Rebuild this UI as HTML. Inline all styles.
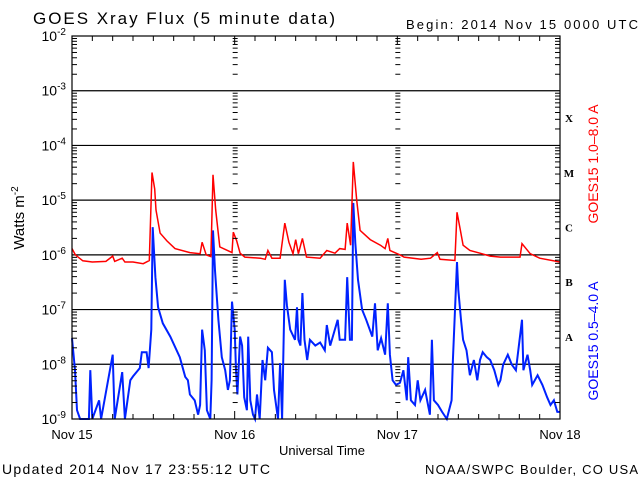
<!DOCTYPE html>
<html><head><meta charset="utf-8"><style>
html,body{margin:0;padding:0;background:#fff;}
svg{display:block;font-family:"Liberation Sans",sans-serif;}
</style></head><body>
<svg id="chart" width="640" height="480" xmlns="http://www.w3.org/2000/svg">
<rect x="0" y="0" width="640" height="480" fill="#fff"/>
<text x="33" y="24" font-size="17" textLength="302" lengthAdjust="spacing">GOES Xray Flux (5 minute data)</text>
<text x="406" y="29" font-size="13" textLength="232" lengthAdjust="spacing">Begin:  2014 Nov 15 0000 UTC</text>
<g id="grid"></g>
<g id="series"></g>
<g id="axes"></g>
<text transform="translate(24,218) rotate(-90)" font-size="15" text-anchor="middle">Watts m<tspan font-size="10" dy="-6">-2</tspan></text>
<text x="322" y="455" font-size="13" text-anchor="middle">Universal Time</text>
<text transform="translate(598,164) rotate(-90)" font-size="14" fill="#ff0000" text-anchor="middle">GOES15 1.0–8.0 A</text>
<text transform="translate(598,341) rotate(-90)" font-size="14" fill="#0000ff" text-anchor="middle">GOES15 0.5–4.0 A</text>
<text x="2" y="474" font-size="14" textLength="268" lengthAdjust="spacing">Updated 2014 Nov 17 23:55:12 UTC</text>
<text x="425" y="474" font-size="13" textLength="213" lengthAdjust="spacing">NOAA/SWPC Boulder, CO USA</text>
</svg>
<script>
const dayLabels = ["Nov 15","Nov 16","Nov 17","Nov 18"];
const decadeExps = [-2,-3,-4,-5,-6,-7,-8,-9];
const flareClasses = ["X","M","C","B","A"];
const redHours = [0,0.5,1.6,3,5,6,6.3,7.4,7.8,9,10.5,11.4,11.8,12.2,12.4,13,14,15.2,17.4,18.9,19.2,19.8,20.5,20.8,21.2,21.8,23.6,23.8,24.3,24.8,25.5,27.8,28.5,28.9,29.5,30.7,31.4,32,32.6,33,33.4,34,34.6,36.6,37.6,38.8,39.5,40.3,40.6,41.1,41.5,42,42.5,44,45.5,46.2,46.6,46.9,48.4,49,51.5,52.9,53.9,54.3,56.5,56.8,57.3,57.7,58.7,60.2,61.7,63.2,66.1,66.4,67.6,69,72];
const redFlux = [1.3e-6,1.0e-6,7.8e-7,7.4e-7,7.6e-7,9.5e-7,7.6e-7,8.7e-7,7.4e-7,7.4e-7,6.9e-7,7.9e-7,3.2e-5,1.6e-5,6.6e-6,2.5e-6,1.8e-6,1.3e-6,1.1e-6,1.05e-6,1.7e-6,1.0e-6,9.3e-7,2.9e-5,6.6e-6,1.4e-6,1.1e-6,2.6e-6,1.8e-6,1.07e-6,9.1e-7,8.7e-7,8.3e-7,1.2e-6,8.7e-7,8.7e-7,3.8e-6,1.7e-6,1.05e-6,1.9e-6,1.05e-6,2.0e-6,9.1e-7,8.7e-7,1.2e-6,1.07e-6,1.3e-6,1.26e-6,3.8e-6,1.5e-6,5.0e-5,1.0e-5,2.8e-6,1.9e-6,1.5e-6,1.3e-6,2.0e-6,1.2e-6,1.0e-6,9.1e-7,8.3e-7,8.7e-7,1.1e-6,8.3e-7,7.9e-7,6.0e-6,2.8e-6,1.5e-6,1.2e-6,1.07e-6,9.5e-7,9.1e-7,9.1e-7,1.6e-6,1.05e-6,8.7e-7,7.4e-7];
const blueHours = [0,0.45,0.74,1.2,2.5,2.7,3.0,4.0,4.3,6.0,6.3,7.4,7.8,8.6,9.0,10.0,10.3,11.0,11.3,11.7,11.9,12.3,12.7,13.4,14.5,15.9,16.7,17.1,17.4,18.1,18.6,18.9,19.2,19.6,19.9,20.4,20.6,20.8,21.1,21.6,22.1,22.6,23.0,23.3,23.6,24.0,24.2,24.4,24.8,25.1,25.4,25.8,26.0,26.3,26.7,27.0,27.3,27.7,28.1,28.5,28.9,29.5,29.8,30.4,30.7,31.0,31.4,31.7,32.2,32.9,33.2,33.4,33.7,34.0,34.3,34.7,35.1,35.9,36.6,37.3,37.6,38.1,39.2,39.5,40.3,40.6,41.0,41.3,41.5,41.8,42.2,42.8,43.4,44.3,44.7,45.1,45.6,46.2,46.6,46.9,47.3,47.8,48.4,48.9,49.4,49.6,50.0,50.6,51.0,51.4,52.1,52.8,53.1,53.4,54.0,54.6,55.3,56.0,56.2,56.8,57.0,57.4,57.7,58.2,58.7,59.3,59.8,60.2,60.6,61.2,61.7,62.3,62.9,63.2,63.6,64.3,64.9,65.5,66.4,66.6,67.2,67.6,67.9,68.7,69.4,70.1,70.6,71.1,71.6,72];
const blueFlux = [3.0e-8,7.8e-9,1.45e-9,1e-9,1e-9,7.8e-9,1e-9,2.2e-9,1e-9,1.5e-8,1e-9,7.2e-9,1e-9,5.1e-9,6.0e-9,8.5e-9,1.66e-8,1.66e-8,8.5e-9,4.3e-8,3.2e-6,3.9e-7,1.1e-7,5.6e-8,3.2e-8,1.35e-8,5.9e-9,5.1e-9,2.8e-9,2.2e-9,1.2e-9,1.8e-9,4.3e-8,1.8e-8,1.45e-9,1e-9,5.1e-9,2.8e-6,5.2e-7,6.5e-8,1.35e-8,7.8e-9,3.4e-9,5.1e-9,1.4e-7,4.3e-8,7.8e-9,2.8e-9,3.2e-8,2.2e-8,2.5e-9,1.45e-9,3.2e-8,2.2e-9,1.2e-9,1e-9,2.8e-9,1e-9,1.2e-8,5.1e-9,2.0e-8,1.66e-8,3.4e-9,1e-9,1.05e-8,1e-9,3.5e-7,1.2e-7,4.3e-8,2.8e-8,1.1e-7,2.8e-8,2.2e-8,2.0e-7,2.8e-8,1.2e-8,2.8e-8,2.2e-8,2.5e-8,1.8e-8,5.2e-8,2.2e-8,6.5e-8,2.8e-8,2.8e-8,3.9e-7,2.8e-8,2.8e-8,8.9e-6,1.66e-6,3.5e-7,1.0e-7,6.5e-8,3.2e-8,1.3e-7,1.8e-8,3.0e-8,1.5e-8,1.3e-7,1.5e-8,5.1e-9,4.2e-9,4.6e-9,7.8e-9,2.2e-9,1.35e-8,2.2e-9,1.8e-9,5.1e-9,2.2e-9,3.4e-9,1.2e-9,2.8e-8,2.2e-9,1.8e-9,1.35e-9,1e-9,2.2e-9,1.2e-8,7.4e-7,2.3e-7,6.5e-8,2.8e-8,1.8e-8,6.3e-9,1.2e-8,5.1e-9,1.2e-8,1.66e-8,1.35e-8,1.2e-8,7.8e-9,4.2e-9,5.1e-9,9.8e-9,1.5e-8,9.8e-9,7.8e-9,6.5e-8,7.8e-9,1.5e-8,7.8e-9,4.2e-9,6.3e-9,4.2e-9,2.5e-9,1.8e-9,2.2e-9,1.35e-9,1.35e-9];

const NS = "http://www.w3.org/2000/svg";
const X0 = 72, X1 = 560, Y0 = 36, Y1 = 419;
const xScale = h => X0 + (X1 - X0) * h / 72;
const yScale = v => { const l = Math.max(-9, Math.min(-2, Math.log10(v))); return Y0 + (-2 - l) * (Y1 - Y0) / 7; };
function mk(tag, attrs, parent) { const e = document.createElementNS(NS, tag); for (const k in attrs) e.setAttribute(k, attrs[k]); parent.appendChild(e); return e; }
const grid = document.getElementById('grid'), axes = document.getElementById('axes'), series = document.getElementById('series');

decadeExps.forEach((e, i) => {
  const y = yScale(Math.pow(10, e));
  if (i > 0 && i < decadeExps.length - 1) {
    const l = mk('line', {x1: X0, x2: X1, y1: y, y2: y, stroke: '#000', 'stroke-width': 1.2}, grid);
    
    
  }
  const t = mk('text', {x: 66, y: y + 5, 'font-size': 14, 'text-anchor': 'end'}, axes);
  
  
  t.innerHTML = '10<tspan font-size="10" dy="-6">' + e + '</tspan>';
});
const tickXs = [X0, xScale(24), xScale(48), X1];
for (let e = -9; e < -2; e++) {
  for (let m = 2; m <= 9; m++) {
    const y = yScale(m * Math.pow(10, e));
    tickXs.forEach((tx, j) => {
      if (j === 0) mk('line', {x1: tx, x2: tx + 5, y1: y, y2: y, stroke: '#000'}, axes);
      else if (j === 3) mk('line', {x1: tx - 5, x2: tx, y1: y, y2: y, stroke: '#000'}, axes);
      else mk('line', {x1: tx - 2, x2: tx + 3, y1: y, y2: y, stroke: '#000'}, axes);
    });
  }
}
for (let h = 0; h <= 72; h += 3) {
  const x = xScale(h), len = h % 24 === 0 ? 8 : 5;
  mk('line', {x1: x, x2: x, y1: Y1, y2: Y1 - len, stroke: '#000'}, axes);
  mk('line', {x1: x, x2: x, y1: Y0, y2: Y0 + len, stroke: '#000'}, axes);
}
dayLabels.forEach((d, i) => {
  const t = mk('text', {x: xScale(i * 24), y: 439, 'font-size': 13, 'text-anchor': 'middle'}, axes);
  
  
  t.textContent = d;
});
flareClasses.forEach((c, i) => {
  const y = (yScale(Math.pow(10, -3 - i)) + yScale(Math.pow(10, -4 - i))) / 2;
  const t = mk('text', {x: 569, y: y + 4, 'font-size': 11, 'font-weight': 'bold', 'font-family': 'Liberation Serif, serif', 'text-anchor': 'middle'}, axes);
  
  
  t.textContent = c;
});
const frame = mk('rect', {x: X0, y: Y0, width: X1 - X0, height: Y1 - Y0, fill: 'none', stroke: '#000', 'stroke-width': 1.2}, axes);



function drawLine(hours, flux, color, w, name) {
  const pts = hours.map((h, i) => xScale(h).toFixed(1) + ',' + yScale(flux[i]).toFixed(1)).join(' ');
  const p = mk('polyline', {points: pts, fill: 'none', stroke: color, 'stroke-width': w}, series);
  
  
}
drawLine(blueHours, blueFlux, '#0022ff', 2, 'short-channel-line');
drawLine(redHours, redFlux, '#ff0000', 1.5, 'long-channel-line');
</script>
</body></html>
